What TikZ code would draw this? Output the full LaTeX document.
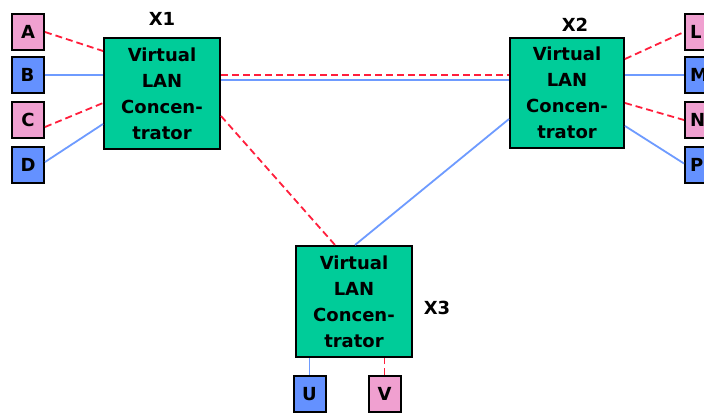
\documentclass[tikz,border=0pt]{standalone}
\usepackage{fontspec}
\setmainfont{DejaVu Sans}
\usetikzlibrary{calc}
\definecolor{vgreen}{RGB}{0,204,153}
\definecolor{vpink}{RGB}{240,160,208}
\definecolor{vblue}{RGB}{100,145,255}
\definecolor{lblue}{RGB}{110,155,255}
\definecolor{lred}{RGB}{255,30,60}
\tikzset{
  x=1pt, y=-1pt,
  conc/.style={draw=black, line width=2pt, fill=vgreen, minimum width=116pt,
    minimum height=111pt, align=center, inner sep=0pt,
    font=\bfseries\fontsize{18}{26}\selectfont},
  station/.style={draw=black, line width=2pt, minimum width=32pt, minimum height=36pt,
    inner sep=0pt, font=\bfseries\fontsize{18}{22}\selectfont},
  edgest/.style={text width=22pt, inner xsep=5pt, align=left, minimum width=0pt},
  pinkst/.style={station, fill=vpink},
  bluest/.style={station, fill=vblue},
  tag/.style={font=\bfseries\fontsize{18}{22}\selectfont, inner sep=0pt},
  vlanA/.style={draw=lred, line width=1.8pt, dash pattern=on 7pt off 4pt},
  vlanB/.style={draw=lblue, line width=1.8pt},
}
\begin{document}
\begin{tikzpicture}
\useasboundingbox (0,0) rectangle (704,413);
\clip (0,0) rectangle (704,413);
\fill[white] (0,0) rectangle (704,413);

% concentrators
\node[conc] (X1) at (162,93.5) {Virtual\\LAN\\Concen-\\trator};
\node[conc, minimum width=114pt, minimum height=110pt] (X2) at (567,93) {Virtual\\LAN\\Concen-\\trator};
\node[conc] (X3) at (354,301.5) {Virtual\\LAN\\Concen-\\trator};

\node[tag] (t1) at (162,19) {X1};
\node[tag] (t2) at (575,25) {X2};
\node[tag] (t3) at (437,308) {X3};

% stations on X1
\node[pinkst] (A) at (28,32) {A};
\node[bluest] (B) at (27.5,75) {B};
\node[pinkst] (C) at (28,120) {C};
\node[bluest] (D) at (28,164.5) {D};

% stations on X2 (running past the right edge)
\node[pinkst, edgest] (L) at (701,32) {L};
\node[bluest, edgest] (M) at (701,75) {M};
\node[pinkst, edgest] (N) at (701,120) {N};
\node[bluest, edgest] (P) at (701,164.5) {P};

% stations on X3
\node[bluest] (U) at (309.5,394) {U};
\node[pinkst] (V) at (384.5,394) {V};

% links to X1
\draw[vlanA] (A.east) -- ([yshift=-14pt]X1.north west);
\draw[vlanB] (B.east) -- (B.east -| X1.west);
\draw[vlanA] ([yshift=-7pt]C.east) -- ([yshift=-66pt]X1.north west);
\draw[vlanB] ([yshift=2.5pt]D.east) -- ([yshift=-87pt]X1.north west);

% links to X2
\draw[vlanA] ([yshift=-22pt]X2.north east) -- (L.west);
\draw[vlanB] (M.west -| X2.east) -- (M.west);
\draw[vlanA] ([yshift=-66pt]X2.north east) -- (N.west);
\draw[vlanB] ([yshift=-89pt]X2.north east) -- ([yshift=1pt]P.west);

% trunk links
\draw[vlanA] ([yshift=-38pt]X1.north east) -- ([yshift=-38pt]X2.north west);
\draw[vlanB] ([yshift=-43pt]X1.north east) -- ([yshift=-43pt]X2.north west);
\draw[vlanA] ([yshift=-79pt]X1.north east) -- ([xshift=40pt]X3.north west);
\draw[vlanB] ([yshift=-82pt]X2.north west) -- ([xshift=60pt]X3.north west);

% links to X3
\draw[vlanB] (U.north) -- (U.north |- X3.south);
\draw[vlanA] (V.north) -- (V.north |- X3.south);
\end{tikzpicture}
\end{document}
